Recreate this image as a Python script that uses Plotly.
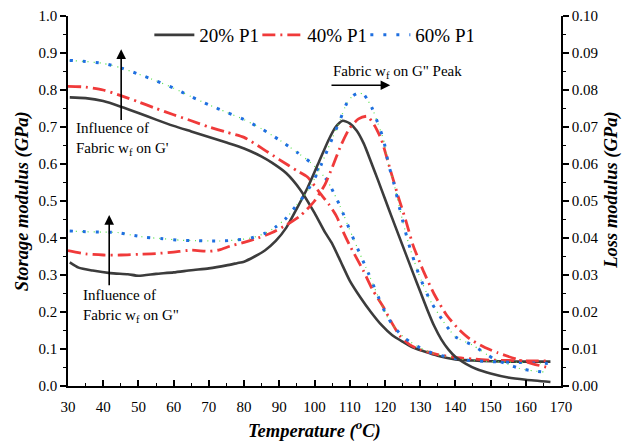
import plotly.graph_objects as go

# ---------------- data ----------------
series_names = ["20% P1", "40% P1", "60% P1"]

# Storage modulus G' (GPa), left axis
t_gp_20 = [30.5, 35, 40, 45, 50, 55, 60, 65, 70, 75, 80, 85, 88, 92, 96, 100, 103, 105, 107.5, 110, 113, 116, 119, 122, 125, 128, 131, 135, 140, 145, 150, 155, 160, 167]
gp_20 = [0.780, 0.778, 0.770, 0.755, 0.738, 0.720, 0.703, 0.688, 0.673, 0.658, 0.642, 0.620, 0.603, 0.575, 0.530, 0.468, 0.415, 0.385, 0.335, 0.285, 0.240, 0.200, 0.165, 0.138, 0.120, 0.104, 0.094, 0.082, 0.072, 0.069, 0.067, 0.066, 0.066, 0.066]

t_gp_40 = [30, 35, 40, 45, 50, 55, 60, 65, 70, 75, 80, 85, 90, 95, 98, 101.5, 104, 106.3, 108, 110, 113.8, 116.5, 119.5, 122, 124.3, 127, 130, 135, 140, 145, 150, 155, 160, 167]
gp_40 = [0.810, 0.808, 0.800, 0.785, 0.768, 0.750, 0.733, 0.717, 0.700, 0.686, 0.672, 0.643, 0.612, 0.582, 0.565, 0.522, 0.492, 0.458, 0.420, 0.380, 0.313, 0.260, 0.214, 0.170, 0.135, 0.112, 0.098, 0.085, 0.077, 0.073, 0.070, 0.069, 0.068, 0.068]

t_gp_60 = [30.5, 35, 40, 45, 50, 55, 60, 65, 70, 75, 80, 85, 90, 95, 99, 103.5, 107.3, 110, 112, 115.3, 117.5, 120.5, 123, 125.7, 130, 133.7, 138, 143, 150, 157, 162, 167]
gp_60 = [0.880, 0.877, 0.872, 0.860, 0.843, 0.825, 0.805, 0.782, 0.760, 0.740, 0.720, 0.695, 0.665, 0.632, 0.603, 0.557, 0.485, 0.422, 0.377, 0.305, 0.255, 0.190, 0.155, 0.129, 0.103, 0.088, 0.078, 0.070, 0.066, 0.064, 0.062, 0.061]

# Loss modulus G'' (GPa), right axis
t_gpp_20 = [30.5, 33, 37, 42, 47, 50, 55, 60, 65, 70, 75, 78, 80, 83, 86, 89, 92, 95, 98, 101, 104, 106, 108, 110, 112, 114, 116, 118, 120, 122, 124, 126, 128, 130, 132, 134, 136, 138, 140, 143, 146, 150, 155, 160, 167]
gpp_20 = [0.0334, 0.0320, 0.0312, 0.0305, 0.0302, 0.0298, 0.0303, 0.0307, 0.0313, 0.0318, 0.0326, 0.0332, 0.0336, 0.0350, 0.0367, 0.0392, 0.0428, 0.0480, 0.0535, 0.0600, 0.0665, 0.0700, 0.0717, 0.0710, 0.0690, 0.0655, 0.0607, 0.0557, 0.0506, 0.0455, 0.0405, 0.0355, 0.0305, 0.0256, 0.0207, 0.0162, 0.0126, 0.0099, 0.0079, 0.0060, 0.0046, 0.0034, 0.0023, 0.0017, 0.0011]

t_gpp_40 = [30, 35, 40, 45, 50, 55, 60, 65, 70, 73, 76, 80, 84, 88, 92, 96, 100, 103, 105, 107.5, 110, 112.5, 115, 117, 119, 121.5, 124, 126, 128, 131, 134, 137.5, 141, 144, 148, 152, 157.5, 162, 167]
gpp_40 = [0.0366, 0.0357, 0.0354, 0.0354, 0.0356, 0.0358, 0.0362, 0.0367, 0.0364, 0.0368, 0.0378, 0.0388, 0.0400, 0.0415, 0.0435, 0.0460, 0.0500, 0.0545, 0.0590, 0.0650, 0.0697, 0.0722, 0.0729, 0.0705, 0.0666, 0.0585, 0.0505, 0.0445, 0.0380, 0.0309, 0.0248, 0.0192, 0.0153, 0.0128, 0.0106, 0.0090, 0.0072, 0.0060, 0.0048]

t_gpp_60 = [30.5, 35, 40, 44, 48, 52, 57, 62, 66, 70, 74, 78, 82, 86, 89, 92, 95, 97.5, 100, 102, 104.5, 107.3, 109.2, 111, 112.5, 114, 116.3, 118, 119.6, 121, 122.5, 124.5, 126.7, 129.5, 132.8, 137, 140, 145, 150.8, 155, 158.4, 162, 165]
gpp_60 = [0.0419, 0.0417, 0.0416, 0.0415, 0.0408, 0.0402, 0.0398, 0.0394, 0.0393, 0.0392, 0.0392, 0.0395, 0.0400, 0.0413, 0.0430, 0.0454, 0.0490, 0.0520, 0.0560, 0.0600, 0.0657, 0.0720, 0.0765, 0.0785, 0.0792, 0.0788, 0.0752, 0.0710, 0.0666, 0.0600, 0.0549, 0.0467, 0.0386, 0.0305, 0.0232, 0.0169, 0.0133, 0.0110, 0.0074, 0.0058, 0.0047, 0.0041, 0.0038]

x_ticks = [30, 40, 50, 60, 70, 80, 90, 100, 110, 120, 130, 140, 150, 160, 170]
y_ticks = [0.0, 0.1, 0.2, 0.3, 0.4, 0.5, 0.6, 0.7, 0.8, 0.9, 1.0]
y2_ticks = [0.00, 0.01, 0.02, 0.03, 0.04, 0.05, 0.06, 0.07, 0.08, 0.09, 0.10]

# ---------------- styles ----------------
FONT = "Liberation Serif"
BLACK = "#3c3c3c"
RED = "#f03a3a"
BLUE = "#1f6fe0"
GREEN = "#55e04a"

fig = go.Figure()

def add_black(t, v, axis, show):
    fig.add_trace(go.Scatter(x=t, y=v, yaxis=axis, mode="lines", name=series_names[0],
                             legendgroup="a", showlegend=show,
                             line=dict(color=BLACK, width=2.6, shape="spline", smoothing=0.6)))

def add_red(t, v, axis, show):
    fig.add_trace(go.Scatter(x=t, y=v, yaxis=axis, mode="lines", name=series_names[1],
                             legendgroup="b", showlegend=show,
                             line=dict(color=RED, width=2.8, dash="13px,5px,2px,5px",
                                       shape="spline", smoothing=0.6)))

def add_blue(t, v, axis, show):
    fig.add_trace(go.Scatter(x=t, y=v, yaxis=axis, mode="lines", name="green",
                             legendgroup="c", showlegend=False, hoverinfo="skip",
                             line=dict(color=GREEN, width=1.2, dash="1px,5px",
                                       shape="spline", smoothing=0.6)))
    fig.add_trace(go.Scatter(x=t, y=v, yaxis=axis, mode="lines", name=series_names[2],
                             legendgroup="c", showlegend=show,
                             line=dict(color=BLUE, width=3, dash="3px,10px",
                                       shape="spline", smoothing=0.6)))

add_black(t_gp_20, gp_20, "y", True)
add_red(t_gp_40, gp_40, "y", True)
add_blue(t_gp_60, gp_60, "y", True)
add_black(t_gpp_20, gpp_20, "y2", False)
add_red(t_gpp_40, gpp_40, "y2", False)
add_blue(t_gpp_60, gpp_60, "y2", False)

axis_common = dict(showgrid=False, zeroline=False, showline=True, linecolor="black",
                   linewidth=1.5, tickcolor="black", tickwidth=1.5, automargin=False,
                   tickfont=dict(family=FONT, size=15, color="black"))

fig.update_layout(
    width=626, height=442,
    margin=dict(l=68, r=65, t=16, b=56),
    paper_bgcolor="white", plot_bgcolor="white",
    font=dict(family=FONT, color="black"),
    showlegend=True,
    legend=dict(orientation="h", x=0.165, y=1.0, xanchor="left", yanchor="top",
                bgcolor="rgba(0,0,0,0)", font=dict(family=FONT, size=19, color="black"),
                itemwidth=40, tracegroupgap=0, entrywidth=53, entrywidthmode="pixels"),
    xaxis=dict(range=[30, 170], tickmode="array", tickvals=x_ticks,
               ticktext=[str(v) for v in x_ticks], ticks="inside", ticklen=6,
               ticklabelstandoff=6,
               minor=dict(dtick=5, tick0=30, ticks="inside", ticklen=3.5, tickcolor="black", tickwidth=1.2),
               **axis_common),
    yaxis=dict(range=[0, 1.0], tickmode="array", tickvals=y_ticks,
               ticktext=[f"{v:.1f}" for v in y_ticks], ticks="outside", ticklen=6,
               minor=dict(dtick=0.05, tick0=0, ticks="outside", ticklen=3.5, tickcolor="black", tickwidth=1.2),
               **axis_common),
    yaxis2=dict(range=[0, 0.1], overlaying="y", side="right", anchor="x",
                tickmode="array", tickvals=y2_ticks,
                ticktext=[f"{v:.2f}" for v in y2_ticks], ticks="outside", ticklen=6,
                minor=dict(dtick=0.005, tick0=0, ticks="outside", ticklen=3.5, tickcolor="black", tickwidth=1.2),
                **axis_common),
)

title_font = dict(family=FONT, size=18.5, color="black", weight="bold", style="italic")
ann = [
    dict(text="Storage modulus (GPa)", xref="paper", yref="paper", x=-0.093, y=0.5,
         textangle=-90, showarrow=False, font=title_font, xanchor="center", yanchor="middle"),
    dict(text="Loss modulus (GPa)", xref="paper", yref="paper", x=1.103, y=0.53,
         textangle=-90, showarrow=False, font=title_font, xanchor="center", yanchor="middle"),
    dict(text="Temperature (<sup>o</sup>C)", xref="paper", yref="paper", x=0.50, y=-0.118,
         showarrow=False, font=title_font, xanchor="center", yanchor="middle"),
    # arrows
    dict(x=45.1, y=0.91, ax=45.1, ay=0.715, xref="x", yref="y", axref="x", ayref="y",
         text="", showarrow=True, arrowhead=2, arrowsize=1.2, arrowwidth=1.6, arrowcolor="black"),
    dict(x=41.7, y=0.462, ax=41.7, ay=0.268, xref="x", yref="y", axref="x", ayref="y",
         text="", showarrow=True, arrowhead=2, arrowsize=1.2, arrowwidth=1.6, arrowcolor="black"),
    dict(x=121.5, y=0.813, ax=104.4, ay=0.813, xref="x", yref="y", axref="x", ayref="y",
         text="", showarrow=True, arrowhead=2, arrowsize=1.2, arrowwidth=1.6, arrowcolor="black"),
    # texts
    dict(text="Influence of<br>Fabric w<sub>f</sub> on G'", xref="x", yref="y", x=31.8, y=0.725,
         showarrow=False, align="left", xanchor="left", yanchor="top",
         font=dict(family=FONT, size=15, color="black")),
    dict(text="Influence of<br>Fabric w<sub>f</sub> on G\"", xref="x", yref="y", x=33.8, y=0.272,
         showarrow=False, align="left", xanchor="left", yanchor="top",
         font=dict(family=FONT, size=15, color="black")),
    dict(text="Fabric w<sub>f</sub> on G\" Peak", xref="x", yref="y", x=104.7, y=0.848,
         showarrow=False, align="left", xanchor="left", yanchor="middle",
         font=dict(family=FONT, size=15, color="black")),
]
fig.update_layout(annotations=ann)

fig.write_html("out.html", config={"displayModeBar": False},
               post_script="document.body.style.margin='0';document.body.style.padding='0';")
